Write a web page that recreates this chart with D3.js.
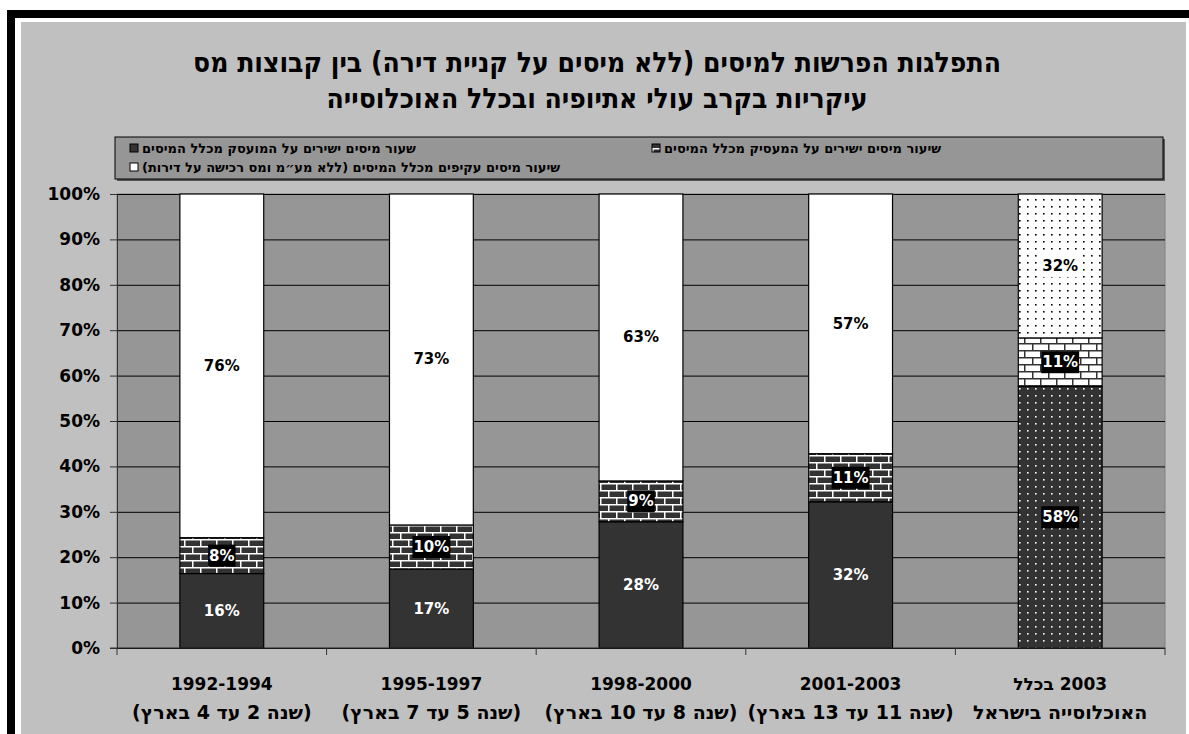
<!DOCTYPE html>
<html>
<head>
<meta charset="utf-8">
<script src="https://cdn.jsdelivr.net/npm/d3@7"></script>
<style>
	body { margin: 0; background: #fff; }
	text { font-family: "DejaVu Sans", sans-serif; font-weight: bold; }
</style>
</head>
<body>
<script>
// data
var periods = ['1992-1994', '1995-1997', '1998-2000', '2001-2003', '2003 בכלל'];
var periodNotes = ['(שנה 2 עד 4 בארץ)', '(שנה 5 עד 7 בארץ)', '(שנה 8 עד 10 בארץ)', '(שנה 11 עד 13 בארץ)', 'האוכלוסייה בישראל'];
var employeeTax = [16.4, 17.4, 27.8, 32.2, 57.6];
var employerTax = [7.9, 9.7, 9.0, 10.6, 10.7];
var indirectTax = [75.7, 72.9, 63.2, 57.2, 31.7];
var seriesNames = [
	'שעור מיסים ישירים על המועסק מכלל המיסים',
	'שיעור מיסים ישירים על המעסיק מכלל המיסים',
	'שיעור מיסים עקיפים מכלל המיסים (ללא מע״מ ומס רכישה על דירות)'
];
var titleLines = [
	'התפלגות הפרשות למיסים (ללא מיסים על קניית דירה) בין קבוצות מס',
	'עיקריות בקרב עולי אתיופיה ובכלל האוכלוסייה'
];
var yTicks = [0, 10, 20, 30, 40, 50, 60, 70, 80, 90, 100];

var W = 1189, H = 734;
var plot = {left: 117, right: 1165, top: 194, bottom: 648};

var svg = d3.select('body').append('svg')
	.attr('width', W)
	.attr('height', H);

var defs = svg.append('defs');

function brick(id, bg, fg) {
	var p = defs.append('pattern')
		.attr('id', id)
		.attr('patternUnits', 'userSpaceOnUse')
		.attr('width', 16)
		.attr('height', 14);
	p.append('rect').attr('width', 16).attr('height', 14).attr('fill', bg);
	[[1.5, 1.5, 14.5], [9.5, 8.5, 6.5], [0, 8.5, 8]].forEach(function(b) {
		p.append('rect')
			.attr('x', b[0]).attr('y', b[1])
			.attr('width', b[2]).attr('height', 5.5)
			.attr('fill', fg);
	});
}

function dots(id, bg, fg) {
	var p = defs.append('pattern')
		.attr('id', id)
		.attr('patternUnits', 'userSpaceOnUse')
		.attr('width', 8)
		.attr('height', 7);
	p.append('rect').attr('width', 8).attr('height', 7).attr('fill', bg);
	p.append('rect').attr('x', 3).attr('y', 3).attr('width', 1.6).attr('height', 1.6).attr('fill', fg);
}

brick('brickDark', '#fff', '#333');
brick('brickLight', '#333', '#fff');
dots('dotsDark', '#333', '#fff');
dots('dotsLight', '#fff', '#000');

// frame
svg.append('rect').attr('x', 7).attr('y', 10).attr('width', W - 7).attr('height', 8).attr('fill', '#000');
svg.append('rect').attr('x', 7).attr('y', 10).attr('width', 8).attr('height', H - 10).attr('fill', '#000');
svg.append('rect').attr('x', 21).attr('y', 22).attr('width', 1165).attr('height', H - 22).attr('fill', '#c0c0c0');

// title
svg.selectAll('.title')
	.data(titleLines)
	.enter()
	.append('text')
	.attr('class', 'title')
	.attr('x', 597)
	.attr('y', function(d, i) { return 72 + i * 36; })
	.attr('direction', 'rtl')
	.attr('text-anchor', 'middle')
	.style('font-family', '"DejaVu Sans Condensed", sans-serif')
	.style('font-size', '28px')
	.text(function(d) { return d; });

// legend
svg.append('rect').attr('x', 117).attr('y', 139).attr('width', 1048).attr('height', 42).attr('fill', '#555');
svg.append('rect').attr('x', 115).attr('y', 137).attr('width', 1048).attr('height', 42)
	.attr('fill', '#969696').attr('stroke', '#000');

var legendPos = [[130, 148], [652, 148], [130, 167]];
var legendFill = ['#333', 'url(#brickDark)', '#fff'];
var legend = svg.selectAll('.legend')
	.data(seriesNames)
	.enter()
	.append('g')
	.attr('class', 'legend')
	.attr('transform', function(d, i) { return 'translate(' + legendPos[i][0] + ',' + legendPos[i][1] + ')'; });
legend.append('rect')
	.attr('x', 0).attr('y', -4)
	.attr('width', 8).attr('height', 8)
	.attr('fill', function(d, i) { return legendFill[i]; })
	.attr('stroke', '#000');
legend.append('text')
	.attr('x', 12)
	.attr('y', 5)
	.attr('direction', 'rtl')
	.attr('text-anchor', 'end')
	.style('font-size', '13px')
	.text(function(d) { return d; });

// plot area
svg.append('rect')
	.attr('x', plot.left).attr('y', plot.top)
	.attr('width', plot.right - plot.left).attr('height', plot.bottom - plot.top)
	.attr('fill', '#969696').attr('stroke', '#808080');

var x = d3.scaleBand()
	.domain(d3.range(periods.length))
	.range([plot.left, plot.right])
	.paddingInner(0.6)
	.paddingOuter(0.3);

var y = d3.scaleLinear()
	.domain([0, 100])
	.range([plot.bottom, plot.top]);

// gridlines
svg.append('g')
	.attr('transform', 'translate(' + plot.left + ',0)')
	.call(d3.axisLeft(y).tickValues(yTicks).tickSize(-(plot.right - plot.left)).tickFormat(''))
	.call(function(g) {
		g.select('.domain').remove();
		g.selectAll('line').attr('stroke', '#000');
	});

var rows = periods.map(function(p, i) {
	return {i: i, emp: employeeTax[i], empr: employerTax[i], ind: indirectTax[i]};
});
var keys = ['emp', 'empr', 'ind'];
var stacked = d3.stack().keys(keys)(rows);

function segFill(k, i) {
	if (k === 'emp') return i === 4 ? 'url(#dotsDark)' : '#333';
	if (k === 'empr') return i === 4 ? 'url(#brickLight)' : 'url(#brickDark)';
	return i === 4 ? 'url(#dotsLight)' : '#fff';
}

var layers = svg.selectAll('.layer')
	.data(stacked)
	.enter()
	.append('g')
	.attr('class', 'layer');

layers.selectAll('rect')
	.data(function(s) { return s.map(function(d) { d.key = s.key; return d; }); })
	.enter()
	.append('rect')
	.attr('x', function(d) { return x(d.data.i); })
	.attr('y', function(d) { return y(d[1]); })
	.attr('width', x.bandwidth())
	.attr('height', function(d) { return y(d[0]) - y(d[1]); })
	.attr('fill', function(d) { return segFill(d.key, d.data.i); })
	.attr('stroke', '#000')
	.attr('stroke-width', 1.2);

// labels
var labelData = [];
stacked.forEach(function(s) {
	s.forEach(function(d) { labelData.push(d); });
});

var lab = svg.selectAll('.lab')
	.data(labelData)
	.enter()
	.append('g')
	.attr('class', 'lab');

lab.append('text')
	.attr('x', function(d) { return x(d.data.i) + x.bandwidth() / 2; })
	.attr('y', function(d) { return y((d[0] + d[1]) / 2) + 5; })
	.attr('text-anchor', 'middle')
	.style('font-size', '15px')
	.attr('fill', function(d) { return d.key === 'ind' ? '#000' : '#fff'; })
	.text(function(d) { return Math.round(d[1] - d[0]) + '%'; });

lab.each(function(d) {
	var boxed = d.key === 'empr' || d.data.i === 4;
	if (!boxed) return;
	var g = d3.select(this);
	var b = g.select('text').node().getBBox();
	g.insert('rect', 'text')
		.attr('x', b.x - 1).attr('y', b.y - 2)
		.attr('width', b.width + 2).attr('height', b.height + 4)
		.attr('fill', d.key === 'ind' ? '#fff' : '#000');
});

// axes
svg.append('g')
	.attr('transform', 'translate(' + plot.left + ',0)')
	.call(d3.axisLeft(y).tickValues(yTicks).tickSize(7).tickSizeOuter(0).tickPadding(10)
		.tickFormat(function(d) { return d + '%'; }))
	.call(function(g) {
		g.select('.domain').attr('stroke', '#333');
		g.selectAll('line').attr('stroke', '#333');
		g.selectAll('text').attr('fill', '#000').style('font-size', '17px').style('font-family', '"DejaVu Sans", sans-serif');
	});

svg.append('line')
	.attr('x1', plot.left - 7).attr('x2', plot.right)
	.attr('y1', plot.bottom).attr('y2', plot.bottom)
	.attr('stroke', '#333');

svg.selectAll('.xtick')
	.data(d3.range(periods.length + 1))
	.enter()
	.append('line')
	.attr('x1', function(d) { return plot.left + d * x.step(); })
	.attr('x2', function(d) { return plot.left + d * x.step(); })
	.attr('y1', plot.bottom)
	.attr('y2', plot.bottom + 7)
	.attr('stroke', '#333');

svg.selectAll('.xlab')
	.data(periods)
	.enter()
	.append('text')
	.attr('x', function(d, i) { return x(i) + x.bandwidth() / 2; })
	.attr('y', 690)
	.attr('direction', 'rtl')
	.attr('text-anchor', 'middle')
	.style('font-size', '17px')
	.text(function(d) { return d; });

svg.selectAll('.xnote')
	.data(periodNotes)
	.enter()
	.append('text')
	.attr('x', function(d, i) { return x(i) + x.bandwidth() / 2; })
	.attr('y', 719)
	.attr('direction', 'rtl')
	.attr('text-anchor', 'middle')
	.style('font-size', '19px')
	.text(function(d) { return d; });
</script>
</body>
</html>
